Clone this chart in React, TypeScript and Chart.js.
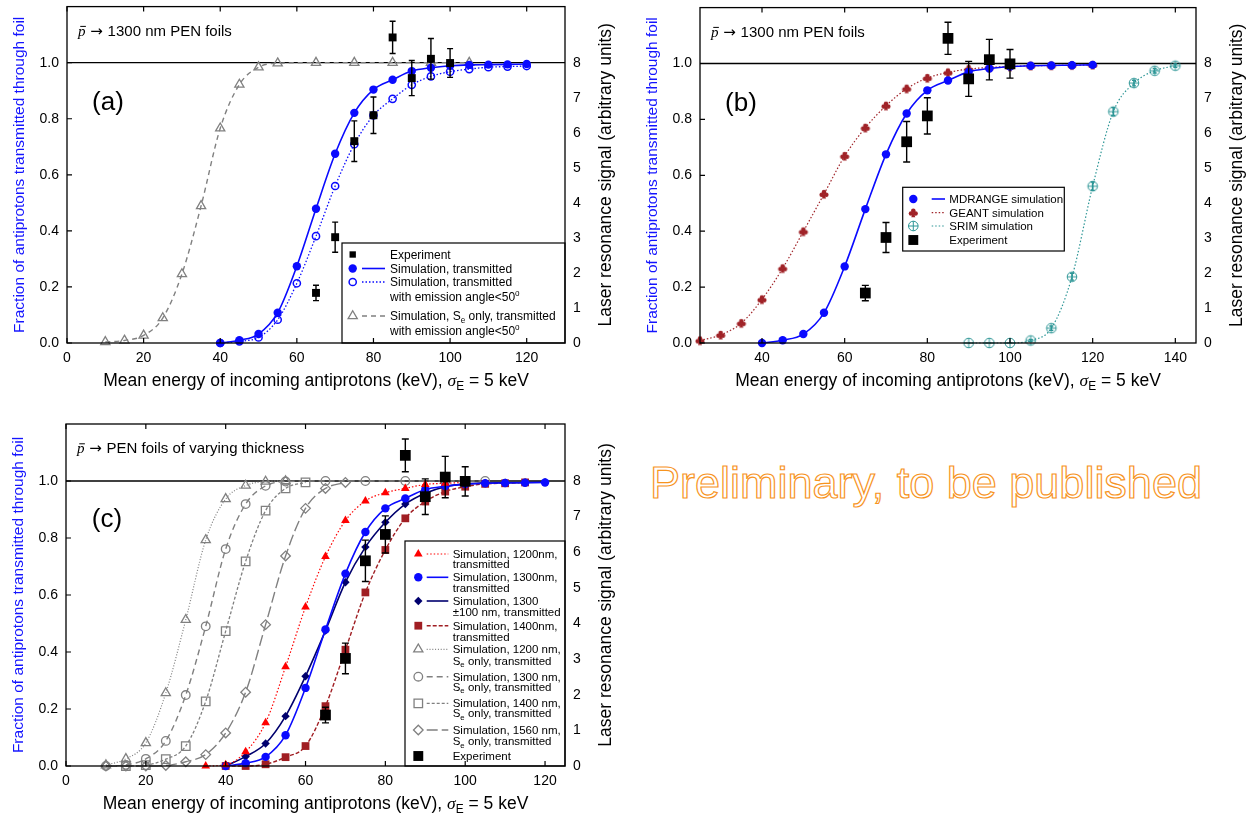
import React, { useEffect, useRef } from 'react';
import { Chart, registerables } from 'chart.js';
Chart.register(...registerables);

const SANS = "'Liberation Sans', Arial, Helvetica, 'DejaVu Sans', sans-serif";
const SERIF = "'Liberation Serif', 'DejaVu Serif', serif";
const DEJAVU = "'DejaVu Sans', sans-serif";

// ---------------- data ----------------
const energySim = [40, 45, 50, 55, 60, 65, 70, 75, 80, 85, 90, 95, 100, 105, 110, 115, 120];
const simTransmitted = [0.0, 0.010, 0.032, 0.108, 0.274, 0.479, 0.675, 0.821, 0.904, 0.939, 0.970, 0.982, 0.989, 0.992, 0.993, 0.994, 0.995];
const simAngle50 = [0.0, 0.006, 0.020, 0.083, 0.213, 0.381, 0.560, 0.709, 0.812, 0.871, 0.921, 0.951, 0.968, 0.977, 0.984, 0.986, 0.988];
const energySeA = [10, 15, 20, 25, 30, 35, 40, 45, 50, 55, 65, 75, 85, 95, 105];
const simSeAngle50 = [0.004, 0.009, 0.027, 0.089, 0.246, 0.489, 0.766, 0.922, 0.984, 0.998, 1.0, 1.0, 1.0, 1.0, 1.0];

const energyExp = [65, 70, 75, 80, 85, 90, 95, 100];
const expSignal = [1.43, 3.02, 5.76, 6.50, 8.72, 7.56, 8.11, 7.99];
const expError = [0.22, 0.43, 0.58, 0.52, 0.46, 0.50, 0.58, 0.41];

const energyGeant = [25, 30, 35, 40, 45, 50, 55, 60, 65, 70, 75, 80, 85, 90, 95, 100, 105, 110, 115, 120];
const geantSim = [0.009, 0.029, 0.071, 0.156, 0.267, 0.399, 0.533, 0.669, 0.770, 0.849, 0.910, 0.948, 0.968, 0.980, 0.986, 0.989, 0.992, 0.993, 0.994, 0.995];
const energySrim = [90, 95, 100, 105, 110, 115, 120, 125, 130, 135, 140];
const srimSim = [0.0, 0.0, 0.0, 0.009, 0.053, 0.237, 0.561, 0.828, 0.930, 0.974, 0.992];
const srimError = [0, 0, 0, 0.004, 0.008, 0.012, 0.015, 0.014, 0.010, 0.008, 0.006];

const energy1200 = [35, 40, 45, 50, 55, 60, 65, 70, 75, 80, 85, 90, 95, 100];
const sim1200 = [0.0, 0.004, 0.050, 0.152, 0.348, 0.558, 0.735, 0.861, 0.930, 0.959, 0.974, 0.988, 0.992, 0.995];
const sim1300pm = [0.0, 0.033, 0.079, 0.175, 0.315, 0.475, 0.645, 0.768, 0.855, 0.919, 0.957, 0.980, 0.990, 0.993, 0.994, 0.995, 0.996];
const energy1400 = [40, 45, 50, 55, 60, 65, 70, 75, 80, 85, 90, 95, 100, 105, 110, 115];
const sim1400 = [0.0, 0.0, 0.006, 0.031, 0.070, 0.210, 0.408, 0.609, 0.758, 0.869, 0.928, 0.963, 0.980, 0.990, 0.992, 0.995];
const energySe1200 = [10, 15, 20, 25, 30, 35, 40, 45, 50, 55];
const se1200 = [0.003, 0.025, 0.081, 0.256, 0.513, 0.793, 0.937, 0.984, 0.998, 1.0];
const energySe1300 = [10, 15, 20, 25, 30, 35, 40, 45, 50, 55, 65, 75, 85, 95, 105];
const se1300 = [0.0, 0.004, 0.025, 0.088, 0.249, 0.490, 0.761, 0.919, 0.983, 0.998, 1.0, 1.0, 1.0, 1.0, 1.0];
const energySe1400 = [15, 20, 25, 30, 35, 40, 45, 50, 55, 60];
const se1400 = [0.0, 0.003, 0.024, 0.070, 0.227, 0.473, 0.718, 0.896, 0.974, 0.995];
const energySe1560 = [10, 15, 20, 25, 30, 35, 40, 45, 50, 55, 60, 65, 70];
const se1560 = [0.0, 0.0, 0.0, 0.002, 0.015, 0.040, 0.116, 0.259, 0.496, 0.737, 0.904, 0.974, 0.995];

const xTicksAC = [0, 20, 40, 60, 80, 100, 120];
const xTicksB = [40, 60, 80, 100, 120, 140];
const yTicksLeft = [0, 0.2, 0.4, 0.6, 0.8, 1.0];
const yTicksRight = [0, 1, 2, 3, 4, 5, 6, 7, 8];

// ---------------- styles ----------------
const BLUE = 'rgb(10,10,255)';
const NAVY = 'rgb(0,0,110)';
const RED = 'rgb(255,0,0)';
const BROWN = 'rgb(160,30,35)';
const GEANT_RED = 'rgb(160,35,40)';
const GRAY = 'rgb(128,128,128)';
const TEAL = 'rgb(45,150,150)';
const BLACK = '#000';

type Seg = { t: string; sub?: boolean; sup?: boolean; it?: boolean; serif?: boolean; bar?: boolean; fam?: string };
type Mk = { style: string; r: number; color: string; filled: boolean; lw?: number };
type LineSty = { color: string; width: number; dash: number[] };
type Series = { x: number[]; y: number[]; mk: Mk; line?: LineSty; axis?: string; err?: number[]; cap?: number; errColor?: string };
type LegendEntry = { mk: Mk; line?: LineSty; rows: { y: number; segs: Seg[] }[] };
type LegendSpec = { box: number[]; mx: number; lx1: number; lx2: number; tx: number; size: number; entries: LegendEntry[] };
type PanelSpec = {
  id: string; left: number; top: number; W: number; H: number;
  aL: number; aR: number; aT: number; aB: number;
  xMin: number; xMax: number; xTicks: number[];
  label: string; title: Seg[]; series: Series[]; legend: LegendSpec;
};

const T = (t: string): Seg[] => [{ t }];
const SE = (a: string, b: string): Seg[] => [{ t: a + 'S' }, { t: 'e', sub: true }, { t: b }];
const ANG: Seg[] = [{ t: 'with emission angle<50' }, { t: 'o', sup: true }];

function drawRich(ctx: CanvasRenderingContext2D, x: number, yc: number, segs: Seg[], size: number, align: string = 'left', color: string = '#000') {
  const base = yc + size * 0.36;
  const parts = segs.map((s) => {
    const fs = s.sub || s.sup ? size * 0.68 : size;
    const fam = s.fam ? s.fam : s.serif ? SERIF : SANS;
    const font = `${s.it ? 'italic ' : ''}${fs}px ${fam}`;
    ctx.font = font;
    const w = ctx.measureText(s.t).width;
    const dy = s.sub ? size * 0.22 : s.sup ? -size * 0.42 : 0;
    return { t: s.t, font, w, dy, bar: !!s.bar };
  });
  const total = parts.reduce((a, p) => a + p.w, 0);
  let cx = align === 'center' ? x - total / 2 : x;
  ctx.save();
  ctx.fillStyle = color;
  ctx.strokeStyle = color;
  ctx.textAlign = 'left';
  ctx.textBaseline = 'alphabetic';
  for (const p of parts) {
    ctx.font = p.font;
    ctx.fillText(p.t, cx, base + p.dy);
    if (p.bar) {
      ctx.lineWidth = 1;
      ctx.beginPath();
      ctx.moveTo(cx + p.w * 0.3, base - size * 0.64);
      ctx.lineTo(cx + p.w * 1.05, base - size * 0.64);
      ctx.stroke();
    }
    cx += p.w;
  }
  ctx.restore();
}

function drawMarker(g: CanvasRenderingContext2D, m: Mk, x: number, y: number) {
  g.save();
  g.lineWidth = m.lw ?? 1.2;
  g.strokeStyle = m.color;
  g.fillStyle = m.color;
  const r = m.r;
  if (m.style === 'club') {
    const s = r * 2;
    const rr = s * 0.23;
    g.beginPath(); g.arc(x, y - s * 0.2, rr, 0, Math.PI * 2); g.fill();
    g.beginPath(); g.arc(x - s * 0.23, y + s * 0.08, rr, 0, Math.PI * 2); g.fill();
    g.beginPath(); g.arc(x + s * 0.23, y + s * 0.08, rr, 0, Math.PI * 2); g.fill();
    g.beginPath(); g.moveTo(x - s * 0.06, y); g.lineTo(x + s * 0.06, y); g.lineTo(x + s * 0.2, y + s * 0.45); g.lineTo(x - s * 0.2, y + s * 0.45); g.closePath(); g.fill();
    g.restore();
    return;
  }
  if (m.style === 'oplus') {
    g.lineWidth = 1;
    g.beginPath(); g.arc(x, y, r, 0, Math.PI * 2); g.stroke();
    g.beginPath(); g.moveTo(x - r, y); g.lineTo(x + r, y); g.moveTo(x, y - r); g.lineTo(x, y + r); g.stroke();
    g.restore();
    return;
  }
  g.beginPath();
  if (m.style === 'circle') g.arc(x, y, r, 0, Math.PI * 2);
  else if (m.style === 'rect') { const h = r * Math.SQRT1_2; g.rect(x - h, y - h, 2 * h, 2 * h); }
  else if (m.style === 'rectRot') { g.moveTo(x, y - r); g.lineTo(x + r, y); g.lineTo(x, y + r); g.lineTo(x - r, y); g.closePath(); }
  else if (m.style === 'triangle') {
    g.moveTo(x, y - r);
    g.lineTo(x + r * Math.sin((2 * Math.PI) / 3), y - r * Math.cos((2 * Math.PI) / 3));
    g.lineTo(x + r * Math.sin((4 * Math.PI) / 3), y - r * Math.cos((4 * Math.PI) / 3));
    g.closePath();
  }
  if (m.filled) g.fill(); else g.stroke();
  g.restore();
}

function markerProps(m: Mk): any {
  if (m.style === 'club' || m.style === 'oplus') {
    const size = Math.ceil(m.r * 2 + 4);
    const c = document.createElement('canvas');
    c.width = size; c.height = size;
    const g = c.getContext('2d')!;
    drawMarker(g, m, size / 2, size / 2);
    return { pointStyle: c, pointRadius: m.r, pointBorderWidth: 0 };
  }
  return {
    pointStyle: m.style,
    pointRadius: m.r,
    pointBackgroundColor: m.filled ? m.color : 'rgba(255,255,255,0)',
    pointBorderColor: m.color,
    pointBorderWidth: m.filled ? 0 : m.lw ?? 1.2,
  };
}

// ---------------- markers ----------------
const mkExpA: Mk = { style: 'rect', r: 5.6, color: BLACK, filled: true };
const mkExpBig: Mk = { style: 'rect', r: 7.6, color: BLACK, filled: true };
const mkBlue: Mk = { style: 'circle', r: 4.2, color: BLUE, filled: true };
const mkBlueOpen: Mk = { style: 'circle', r: 3.6, color: BLUE, filled: false, lw: 1.5 };
const mkGrayTri: Mk = { style: 'triangle', r: 5.3, color: GRAY, filled: false, lw: 1.3 };
const mkClub: Mk = { style: 'club', r: 5, color: GEANT_RED, filled: true };
const mkOplus: Mk = { style: 'oplus', r: 4.8, color: TEAL, filled: false };
const mkRedTri: Mk = { style: 'triangle', r: 5, color: RED, filled: true };
const mkNavy: Mk = { style: 'rectRot', r: 4.2, color: NAVY, filled: true };
const mkBrown: Mk = { style: 'rect', r: 5.5, color: BROWN, filled: true };
const mkGrayCirc: Mk = { style: 'circle', r: 4.3, color: GRAY, filled: false, lw: 1.3 };
const mkGraySq: Mk = { style: 'rect', r: 6, color: GRAY, filled: false, lw: 1.3 };
const mkGrayDia: Mk = { style: 'rectRot', r: 4.8, color: GRAY, filled: false, lw: 1.3 };

const lnBlue: LineSty = { color: BLUE, width: 1.6, dash: [] };
const lnBlueDot: LineSty = { color: BLUE, width: 1.3, dash: [1.5, 2] };
const lnGrayDash: LineSty = { color: GRAY, width: 1.4, dash: [5, 4] };
const lnGeant: LineSty = { color: GEANT_RED, width: 1.2, dash: [1.5, 2] };
const lnSrim: LineSty = { color: TEAL, width: 1.2, dash: [1.5, 2] };
const lnRedDot: LineSty = { color: RED, width: 1.2, dash: [1.5, 2] };
const lnNavy: LineSty = { color: NAVY, width: 1.6, dash: [] };
const lnBrown: LineSty = { color: BROWN, width: 1.4, dash: [4, 2] };
const lnG1200: LineSty = { color: GRAY, width: 1.2, dash: [1, 1.8] };
const lnG1300: LineSty = { color: GRAY, width: 1.4, dash: [6, 4] };
const lnG1400: LineSty = { color: GRAY, width: 1.3, dash: [3, 2] };
const lnG1560: LineSty = { color: GRAY, width: 1.4, dash: [11, 4] };

const pTitle = (rest: string): Seg[] => [
  { t: 'p', it: true, serif: true, bar: true },
  { t: ' \u2192 ', fam: DEJAVU },
  { t: rest },
];

const panelA: PanelSpec = {
  id: 'a', left: 0, top: 0, W: 625, H: 400, aL: 67, aR: 565, aT: 1, aB: 343,
  xMin: 0, xMax: 130, xTicks: xTicksAC, label: '(a)', title: pTitle('1300 nm PEN foils'),
  series: [
    { x: energyExp, y: expSignal, mk: mkExpA, axis: 'y2', err: expError, cap: 3 },
    { x: energySim, y: simTransmitted, mk: mkBlue, line: lnBlue },
    { x: energySim, y: simAngle50, mk: mkBlueOpen, line: lnBlueDot },
    { x: energySeA, y: simSeAngle50, mk: mkGrayTri, line: lnGrayDash },
  ],
  legend: {
    box: [342, 243, 565, 343], mx: 352.7, lx1: 362, lx2: 385, tx: 390, size: 12,
    entries: [
      { mk: { ...mkExpA, r: 4.5 }, rows: [{ y: 254.5, segs: T('Experiment') }] },
      { mk: mkBlue, line: lnBlue, rows: [{ y: 268.5, segs: T('Simulation, transmitted') }] },
      { mk: mkBlueOpen, line: lnBlueDot, rows: [{ y: 282, segs: T('Simulation, transmitted') }, { y: 297, segs: ANG }] },
      { mk: mkGrayTri, line: lnGrayDash, rows: [{ y: 316, segs: SE('Simulation, ', ' only, transmitted') }, { y: 330.5, segs: ANG }] },
    ],
  },
};

const panelB: PanelSpec = {
  id: 'b', left: 628, top: 0, W: 627, H: 400, aL: 72, aR: 568, aT: 1, aB: 343,
  xMin: 25, xMax: 145, xTicks: xTicksB, label: '(b)', title: pTitle('1300 nm PEN foils'),
  series: [
    { x: energyExp, y: expSignal, mk: mkExpBig, axis: 'y2', err: expError, cap: 3.5 },
    { x: energySim, y: simTransmitted, mk: mkBlue, line: lnBlue },
    { x: energyGeant, y: geantSim, mk: mkClub, line: lnGeant },
    { x: energySrim, y: srimSim, mk: mkOplus, line: lnSrim, err: srimError, cap: 2, errColor: TEAL },
  ],
  legend: {
    box: [274.7, 187.3, 436.3, 251], mx: 285.3, lx1: 303.7, lx2: 317, tx: 321.3, size: 11.5,
    entries: [
      { mk: mkBlue, line: lnBlue, rows: [{ y: 199, segs: T('MDRANGE simulation') }] },
      { mk: mkClub, line: lnGeant, rows: [{ y: 212.7, segs: T('GEANT simulation') }] },
      { mk: mkOplus, line: lnSrim, rows: [{ y: 226, segs: T('SRIM simulation') }] },
      { mk: { ...mkExpBig, r: 7 }, rows: [{ y: 240, segs: T('Experiment') }] },
    ],
  },
};

const panelC: PanelSpec = {
  id: 'c', left: 0, top: 410, W: 625, H: 410, aL: 66, aR: 565, aT: 14, aB: 356,
  xMin: 0, xMax: 125, xTicks: xTicksAC, label: '(c)', title: pTitle('PEN foils of varying thickness'),
  series: [
    { x: energyExp, y: expSignal, mk: mkExpBig, axis: 'y2', err: expError, cap: 3.5 },
    { x: energy1200, y: sim1200, mk: mkRedTri, line: lnRedDot },
    { x: energySim, y: simTransmitted, mk: mkBlue, line: lnBlue },
    { x: energySim, y: sim1300pm, mk: mkNavy, line: lnNavy },
    { x: energy1400, y: sim1400, mk: mkBrown, line: lnBrown },
    { x: energySe1200, y: se1200, mk: mkGrayTri, line: lnG1200 },
    { x: energySe1300, y: se1300, mk: mkGrayCirc, line: lnG1300 },
    { x: energySe1400, y: se1400, mk: mkGraySq, line: lnG1400 },
    { x: energySe1560, y: se1560, mk: mkGrayDia, line: lnG1560 },
  ],
  legend: {
    box: [405, 131, 565, 356], mx: 418.3, lx1: 426.7, lx2: 448.3, tx: 452.7, size: 11.5,
    entries: [
      { mk: mkRedTri, line: lnRedDot, rows: [{ y: 144, segs: T('Simulation, 1200nm,') }, { y: 154.3, segs: T('transmitted') }] },
      { mk: mkBlue, line: lnBlue, rows: [{ y: 167.3, segs: T('Simulation, 1300nm,') }, { y: 177.7, segs: T('transmitted') }] },
      { mk: mkNavy, line: lnNavy, rows: [{ y: 191, segs: T('Simulation, 1300') }, { y: 201.7, segs: T('\u00b1100 nm, transmitted') }] },
      { mk: mkBrown, line: lnBrown, rows: [{ y: 215.7, segs: T('Simulation, 1400nm,') }, { y: 226.7, segs: T('transmitted') }] },
      { mk: mkGrayTri, line: lnG1200, rows: [{ y: 239.3, segs: T('Simulation, 1200 nm,') }, { y: 250.7, segs: SE('', ' only, transmitted') }] },
      { mk: mkGrayCirc, line: lnG1300, rows: [{ y: 266.7, segs: T('Simulation, 1300 nm,') }, { y: 276.7, segs: SE('', ' only, transmitted') }] },
      { mk: mkGraySq, line: lnG1400, rows: [{ y: 293.3, segs: T('Simulation, 1400 nm,') }, { y: 303.3, segs: SE('', ' only, transmitted') }] },
      { mk: mkGrayDia, line: lnG1560, rows: [{ y: 320, segs: T('Simulation, 1560 nm,') }, { y: 331, segs: SE('', ' only, transmitted') }] },
      { mk: { ...mkExpBig, r: 7 }, rows: [{ y: 346, segs: T('Experiment') }] },
    ],
  },
};

const X_TITLE: Seg[] = [
  { t: 'Mean energy of incoming antiprotons (keV), ' },
  { t: '\u03c3', it: true, serif: true },
  { t: 'E', sub: true },
  { t: ' = 5 keV' },
];
const Y_TITLE: Seg[] = T('Fraction of antiprotons transmitted through foil');
const Y2_TITLE: Seg[] = T('Laser resonance signal (arbitrary units)');

function panelPlugin(spec: PanelSpec) {
  return {
    id: 'panel_' + spec.id,
    beforeDatasetsDraw(chart: any) {
      const { ctx, chartArea: a, scales } = chart;
      const y1 = scales.y.getPixelForValue(1.0);
      ctx.save();
      ctx.strokeStyle = '#000';
      ctx.lineWidth = 1.4;
      ctx.beginPath();
      ctx.moveTo(a.left, y1);
      ctx.lineTo(a.right, y1);
      ctx.stroke();
      ctx.restore();
    },
    afterDatasetsDraw(chart: any) {
      const { ctx, scales } = chart;
      chart.data.datasets.forEach((d: any) => {
        if (!d.errorBars) return;
        const ys = scales[d.yAxisID || 'y'];
        ctx.save();
        ctx.strokeStyle = d.errorColor || '#000';
        ctx.lineWidth = 1.4;
        d.data.forEach((p: any, j: number) => {
          const e = d.errorBars[j];
          if (!e) return;
          const x = scales.x.getPixelForValue(p.x);
          const yt = ys.getPixelForValue(p.y + e);
          const yb = ys.getPixelForValue(p.y - e);
          const c = d.errorCap || 3;
          ctx.beginPath();
          ctx.moveTo(x, yt); ctx.lineTo(x, yb);
          ctx.moveTo(x - c, yt); ctx.lineTo(x + c, yt);
          ctx.moveTo(x - c, yb); ctx.lineTo(x + c, yb);
          ctx.stroke();
        });
        ctx.restore();
      });
    },
    afterDraw(chart: any) {
      const { ctx, chartArea: a, scales } = chart;
      // legend
      const L = spec.legend;
      ctx.save();
      ctx.fillStyle = '#fff';
      ctx.fillRect(L.box[0], L.box[1], L.box[2] - L.box[0], L.box[3] - L.box[1]);
      ctx.strokeStyle = '#000';
      ctx.lineWidth = 1.2;
      ctx.strokeRect(L.box[0], L.box[1], L.box[2] - L.box[0], L.box[3] - L.box[1]);
      ctx.restore();
      L.entries.forEach((en) => {
        const y0 = en.rows[0].y;
        if (en.line) {
          ctx.save();
          ctx.strokeStyle = en.line.color;
          ctx.lineWidth = en.line.width;
          ctx.setLineDash(en.line.dash);
          ctx.beginPath();
          ctx.moveTo(L.lx1, y0);
          ctx.lineTo(L.lx2, y0);
          ctx.stroke();
          ctx.restore();
        }
        drawMarker(ctx, en.mk, L.mx, y0);
        en.rows.forEach((r) => drawRich(ctx, L.tx, r.y, r.segs, L.size));
      });
      // frame
      ctx.save();
      ctx.strokeStyle = '#000';
      ctx.lineWidth = 1.3;
      ctx.strokeRect(a.left, a.top, a.right - a.left, a.bottom - a.top);
      // inward ticks
      ctx.lineWidth = 1.2;
      ctx.beginPath();
      scales.x.ticks.forEach((t: any) => {
        const px = scales.x.getPixelForValue(t.value);
        ctx.moveTo(px, a.bottom); ctx.lineTo(px, a.bottom - 5);
        ctx.moveTo(px, a.top); ctx.lineTo(px, a.top + 5);
      });
      scales.y.ticks.forEach((t: any) => {
        const py = scales.y.getPixelForValue(t.value);
        ctx.moveTo(a.left, py); ctx.lineTo(a.left + 5, py);
      });
      ctx.stroke();
      ctx.restore();
      // annotations
      drawRich(ctx, a.left + 11, a.top + 24, spec.title, 15);
      ctx.save();
      ctx.font = `26px ${SANS}`;
      ctx.fillStyle = '#000';
      ctx.textAlign = 'center';
      ctx.textBaseline = 'middle';
      ctx.fillText(spec.label, a.left + 41, a.top + 96);
      ctx.restore();
      // axis titles
      drawRich(ctx, (a.left + a.right) / 2, a.bottom + 37, X_TITLE, 17.5, 'center');
      const midY = (a.top + a.bottom) / 2;
      ctx.save();
      ctx.translate(a.left - 49, midY);
      ctx.rotate(-Math.PI / 2);
      drawRich(ctx, 0, 0, Y_TITLE, 15.5, 'center', 'rgb(20,20,255)');
      ctx.restore();
      ctx.save();
      ctx.translate(a.right + 40, midY);
      ctx.rotate(-Math.PI / 2);
      drawRich(ctx, 0, 0, Y2_TITLE, 17.5, 'center', '#000');
      ctx.restore();
    },
  };
}

function buildConfig(spec: PanelSpec): any {
  const datasets = spec.series.map((s) => ({
    data: s.x.map((x, i) => ({ x, y: s.y[i] })),
    yAxisID: s.axis || 'y',
    showLine: !!s.line,
    borderColor: s.line ? s.line.color : s.mk.color,
    borderWidth: s.line ? s.line.width : 1,
    borderDash: s.line ? s.line.dash : [],
    cubicInterpolationMode: 'monotone',
    fill: false,
    clip: false,
    ...markerProps(s.mk),
    errorBars: s.err,
    errorCap: s.cap,
    errorColor: s.errColor,
  }));
  const zeroPad = (sc: any) => {
    sc.paddingLeft = 0; sc.paddingRight = 0; sc.paddingTop = 0; sc.paddingBottom = 0;
  };
  const tickFont = { size: 14, family: SANS };
  return {
    type: 'line',
    data: { datasets },
    options: {
      responsive: false,
      animation: false,
      devicePixelRatio: 1,
      events: [],
      layout: { padding: { top: spec.aT, left: 0, right: 0, bottom: 0 } },
      plugins: { legend: { display: false }, tooltip: { enabled: false }, title: { display: false } },
      scales: {
        x: {
          type: 'linear', position: 'bottom', min: spec.xMin, max: spec.xMax,
          grid: { display: false, drawTicks: false }, border: { display: false },
          ticks: { color: '#000', font: tickFont, padding: 7, maxRotation: 0, autoSkip: false, callback: (v: any) => String(v) },
          afterBuildTicks: (sc: any) => { sc.ticks = spec.xTicks.map((v) => ({ value: v })); },
          afterFit: (sc: any) => { sc.height = spec.H - spec.aB; zeroPad(sc); },
        },
        y: {
          type: 'linear', position: 'left', min: 0, max: 1.2,
          grid: { display: false, drawTicks: false }, border: { display: false },
          ticks: { color: '#000', font: tickFont, padding: 8, autoSkip: false, callback: (v: any) => Number(v).toFixed(1) },
          afterBuildTicks: (sc: any) => { sc.ticks = yTicksLeft.map((v) => ({ value: v })); },
          afterFit: (sc: any) => { sc.width = spec.aL; zeroPad(sc); },
        },
        y2: {
          type: 'linear', position: 'right', min: 0, max: 9.6,
          grid: { display: false, drawTicks: false }, border: { display: false },
          ticks: { color: '#000', font: tickFont, padding: 8, autoSkip: false, callback: (v: any) => String(v) },
          afterBuildTicks: (sc: any) => { sc.ticks = yTicksRight.map((v) => ({ value: v })); },
          afterFit: (sc: any) => { sc.width = spec.W - spec.aR; zeroPad(sc); },
        },
      },
    },
    plugins: [panelPlugin(spec)],
  };
}

function Panel({ spec }: { spec: PanelSpec }) {
  const ref = useRef<HTMLCanvasElement>(null);
  useEffect(() => {
    const chart = new Chart(ref.current as HTMLCanvasElement, buildConfig(spec));
    return () => chart.destroy();
  }, [spec]);
  return (
    <canvas
      ref={ref}
      width={spec.W}
      height={spec.H}
      style={{ position: 'absolute', left: spec.left, top: spec.top, width: spec.W, height: spec.H }}
    />
  );
}

export default function App() {
  return (
    <div style={{ position: 'absolute', left: 0, top: 0, width: 1255, height: 820, background: '#fff', overflow: 'hidden' }}>
      <Panel spec={panelA} />
      <Panel spec={panelB} />
      <Panel spec={panelC} />
      <div
        style={{
          position: 'absolute', left: 650, top: 460, fontFamily: SANS, fontSize: 45, lineHeight: '45px',
          color: '#fff', WebkitTextStroke: '1.2px rgb(247,148,30)', whiteSpace: 'nowrap',
        }}
      >
        Preliminary, to be published
      </div>
    </div>
  );
}
